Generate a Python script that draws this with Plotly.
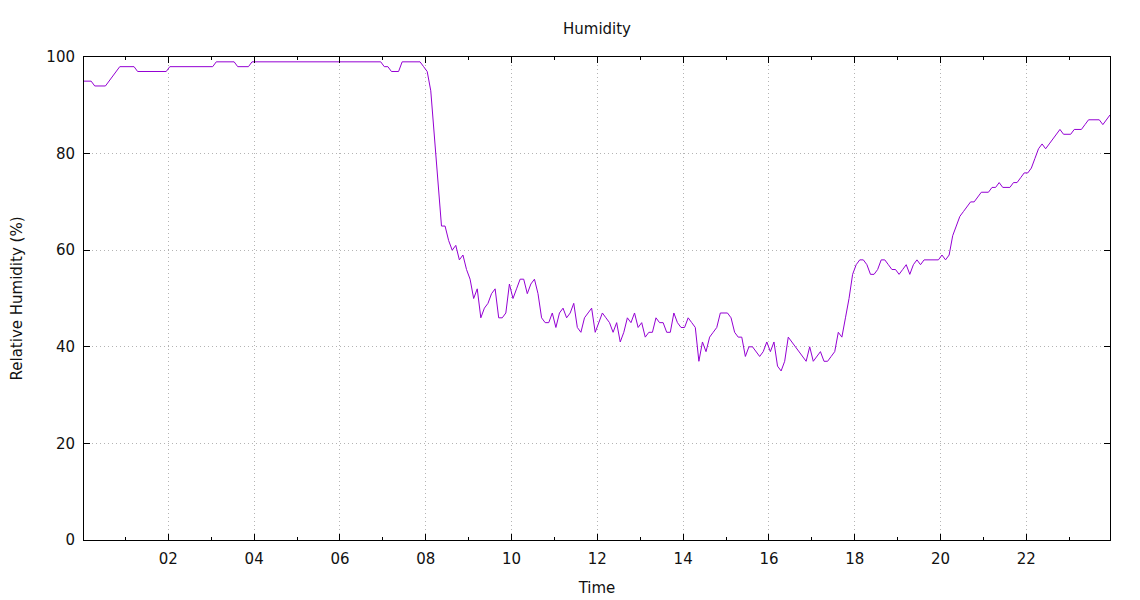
import plotly.graph_objects as go
import pandas as pd

# Sample times (HH:MM) and relative humidity (%)
times = [
    "00:02", "00:12", "00:17", "00:32", "00:52", "01:12", "01:17", "01:57", "02:02", "03:02",
    "03:07", "03:32", "03:37", "03:52", "03:57", "06:57", "07:02", "07:07", "07:12", "07:22",
    "07:27", "07:52", "07:57", "08:02", "08:07", "08:12", "08:17", "08:22", "08:27", "08:32",
    "08:37", "08:42", "08:47", "08:52", "08:57", "09:02", "09:07", "09:12", "09:17", "09:22",
    "09:27", "09:32", "09:37", "09:42", "09:47", "09:52", "09:57", "10:02", "10:07", "10:12",
    "10:17", "10:22", "10:27", "10:32", "10:37", "10:42", "10:47", "10:52", "10:57", "11:02",
    "11:07", "11:12", "11:17", "11:22", "11:27", "11:32", "11:37", "11:42", "11:47", "11:52",
    "11:57", "12:02", "12:07", "12:12", "12:17", "12:22", "12:27", "12:32", "12:37", "12:42",
    "12:47", "12:52", "12:57", "13:02", "13:07", "13:12", "13:17", "13:22", "13:27", "13:32",
    "13:37", "13:42", "13:47", "13:52", "13:57", "14:02", "14:07", "14:12", "14:17", "14:22",
    "14:27", "14:32", "14:37", "14:42", "14:47", "14:52", "14:57", "15:02", "15:07", "15:12",
    "15:17", "15:22", "15:27", "15:32", "15:37", "15:42", "15:47", "15:52", "15:57", "16:02",
    "16:07", "16:12", "16:17", "16:22", "16:27", "16:52", "16:57", "17:02", "17:07", "17:12",
    "17:17", "17:22", "17:27", "17:32", "17:37", "17:42", "17:47", "17:52", "17:57", "18:02",
    "18:07", "18:12", "18:17", "18:22", "18:27", "18:32", "18:37", "18:42", "18:47", "18:52",
    "18:57", "19:02", "19:07", "19:12", "19:17", "19:22", "19:27", "19:32", "19:37", "19:57",
    "20:02", "20:07", "20:12", "20:17", "20:22", "20:27", "20:32", "20:37", "20:42", "20:47",
    "20:52", "20:57", "21:07", "21:12", "21:17", "21:22", "21:27", "21:37", "21:42", "21:47",
    "21:52", "21:57", "22:02", "22:07", "22:12", "22:17", "22:22", "22:27", "22:32", "22:37",
    "22:42", "22:47", "22:52", "23:02", "23:07", "23:17", "23:22", "23:27", "23:42", "23:47",
    "23:57",
]
humidity = [
    95, 95, 94, 94, 98, 98, 97, 97, 98, 98,
    99, 99, 98, 98, 99, 99, 98, 98, 97, 97,
    99, 99, 98, 97, 93, 83, 75, 65, 65, 62,
    60, 61, 58, 59, 56, 54, 50, 52, 46, 48,
    49, 51, 52, 46, 46, 47, 53, 50, 52, 54,
    54, 51, 53, 54, 51, 46, 45, 45, 47, 44,
    47, 48, 46, 47, 49, 44, 43, 46, 47, 48,
    43, 45, 47, 46, 45, 43, 45, 41, 43, 46,
    45, 47, 44, 45, 42, 43, 43, 46, 45, 45,
    43, 43, 47, 45, 44, 44, 46, 45, 44, 37,
    41, 39, 42, 43, 44, 47, 47, 47, 46, 43,
    42, 42, 38, 40, 40, 39, 38, 39, 41, 39,
    41, 36, 35, 37, 42, 37, 40, 37, 38, 39,
    37, 37, 38, 39, 43, 42, 46, 50, 55, 57,
    58, 58, 57, 55, 55, 56, 58, 58, 57, 56,
    56, 55, 56, 57, 55, 57, 58, 57, 58, 58,
    59, 58, 59, 63, 65, 67, 68, 69, 70, 70,
    71, 72, 72, 73, 73, 74, 73, 73, 74, 74,
    75, 76, 76, 77, 79, 81, 82, 81, 82, 83,
    84, 85, 84, 84, 85, 85, 86, 87, 87, 86,
    88,
]

x_tick_labels = ["02", "04", "06", "08", "10", "12", "14", "16", "18", "20", "22"]
y_ticks = [0, 20, 40, 60, 80, 100]

day = "2024-01-01 "
xs = pd.to_datetime([day + t for t in times])
tickvals = pd.to_datetime([day + h + ":00" for h in x_tick_labels])
minor_vals = pd.to_datetime([day + f"{h:02d}:00" for h in range(1, 24, 2)])

font = "DejaVu Sans"
grid_col = "#b4b4b4"
W, H = 1132, 592

fig = go.Figure()
fig.add_trace(go.Scatter(
    x=xs, y=humidity, mode="lines",
    line=dict(color="#9400d3", width=1),
    showlegend=False, hoverinfo="x+y",
))

fig.update_layout(
    width=W, height=H,
    margin=dict(l=76, r=30, t=49, b=60),
    paper_bgcolor="white", plot_bgcolor="white",
    font=dict(family=font, size=15, color="#111111"),
    title=dict(text="Humidity", x=589 / W, xanchor="center",
               y=1 - 21 / H, yanchor="middle", yref="container",
               font=dict(family=font, size=15, color="#111111")),
)

fig.update_xaxes(
    range=[xs[0], xs[-1]],
    tickmode="array", tickvals=tickvals, ticktext=x_tick_labels,
    ticks="inside", ticklen=6, tickwidth=1, tickcolor="black",
    ticklabelstandoff=5,
    showline=True, linecolor="black", linewidth=1, mirror="ticks",
    showgrid=True, gridcolor=grid_col, gridwidth=1, griddash="1px,3px",
    zeroline=False,
    minor=dict(tickmode="array", tickvals=minor_vals, ticks="inside",
               ticklen=3, tickcolor="black", showgrid=False),
    title=dict(text="Time", standoff=15, font=dict(family=font, size=15)),
    automargin=False,
)
fig.update_yaxes(
    range=[0, 100],
    tickmode="array", tickvals=y_ticks, ticktext=[str(v) for v in y_ticks],
    ticks="inside", ticklen=6, tickwidth=1, tickcolor="black",
    ticklabelstandoff=5,
    showline=True, linecolor="black", linewidth=1, mirror="ticks",
    showgrid=True, gridcolor=grid_col, gridwidth=1, griddash="1px,3px",
    zeroline=False,
    title=dict(text="Relative Humidity (%)", standoff=27, font=dict(family=font, size=15)),
    automargin=False,
)

fig.write_html("out.html")
